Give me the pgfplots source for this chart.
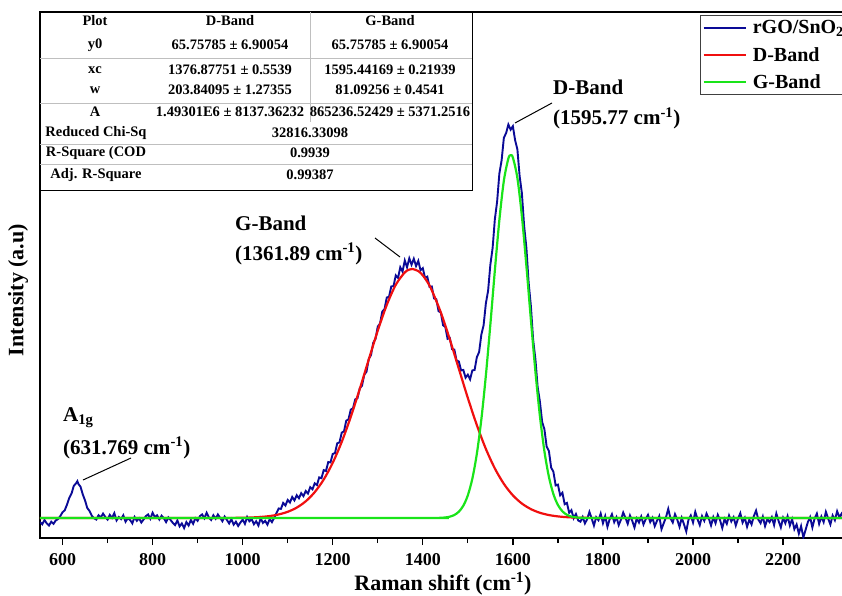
\documentclass[border=0pt]{standalone}
\usepackage{pgfplots}
\pgfplotsset{compat=1.18}
\usepackage{fontspec}
\setmainfont{Liberation Serif}
\definecolor{specblue}{RGB}{10,10,150}
\definecolor{fitred}{RGB}{240,15,15}
\definecolor{fitgreen}{RGB}{25,228,25}
\newcommand\tf{\fontsize{14.5}{14.5}\selectfont\bfseries}
\newcommand\af{\fontsize{21}{21}\selectfont\bfseries}
\begin{document}
\begin{tikzpicture}
\begin{axis}[
  at={(0pt,0pt)}, anchor=south west,
  scale only axis, width=830pt, height=526pt,
  xmin=550, xmax=2393, ymin=-403, ymax=11941,
  axis line style={line width=1.6pt},
  xtick={600,800,...,2200}, minor x tick num=1,
  ytick=\empty,
  xtick pos=bottom, tick align=outside,
  major tick length=7pt, minor tick length=5pt,
  every tick/.style={black, line width=1.3pt},
  xticklabel style={font=\fontsize{18}{18}\selectfont\bfseries, yshift=-5pt},
  /pgf/number format/assume math mode=true,
  /pgf/number format/1000 sep={},
  xlabel={Raman shift (cm\textsuperscript{-1})},
  ylabel={Intensity (a.u)},
  label style={font=\fontsize{22}{22}\selectfont\bfseries},
  xlabel style={at={([yshift=-46pt]rel axis cs:0.4855,0)}, anchor=center},
  ylabel style={at={([xshift=-22pt]rel axis cs:0,0.4715)}, anchor=center},
  legend style={at={(rel axis cs:0.7952,0.9943)}, anchor=north west,
    draw=black!75, line width=0.8pt, inner xsep=2pt, inner ysep=3pt,
    row sep=8pt, column sep=4pt, nodes={inner sep=2pt},
    font=\fontsize{20}{20}\selectfont\bfseries},
  legend cell align=left,
  legend image code/.code={\draw[#1,line width=2.4pt] (0pt,0pt) -- (42pt,0pt);},
]
% measured spectrum
\addplot[specblue, line width=1.9pt] coordinates {
(550,-30)(555,-80)(560,20)(565,-60)(570,-110)(575,-20)(580,-70)(585,10)(590,40)
(595,110)(600,200)(605,250)(610,380)(615,540)(620,640)(625,820)(630,880)(633,930)
(635,870)(640,800)(645,620)(650,480)(655,300)(660,230)(665,120)(670,60)
(675,30)(680,130)(685,80)(690,170)(695,90)(700,30)(705,140)(710,70)(715,180)(720,10)
(725,90)(730,40)(735,130)(740,-20)(745,60)(750,20)(755,-60)(760,90)(765,0)(770,60)
(775,-40)(780,30)(785,110)(790,150)(795,50)(800,190)(805,90)(810,130)(815,30)(820,120)
(825,60)(830,-30)(835,80)(840,20)(845,-50)(850,-100)(855,10)(860,-130)(865,-60)(870,-170)
(875,-30)(880,-110)(885,20)(890,-70)(895,60)(900,0)(905,110)(910,150)(915,60)(920,190)
(925,80)(930,20)(935,130)(940,50)(945,150)(950,70)(955,-10)(960,100)(965,20)(970,-60)
(975,40)(980,-90)(985,-20)(990,-120)(995,-40)(1000,30)(1005,-70)(1010,90)(1015,-10)(1020,40)
(1025,-80)(1030,-10)(1035,-110)(1040,60)(1045,-50)(1050,0)(1055,-90)(1060,40)(1065,-30)(1070,70)
(1075,180)(1080,290)(1085,280)(1090,420)(1095,360)(1100,490)(1105,430)(1110,560)(1115,480)
(1120,600)(1125,530)(1130,650)(1135,580)(1140,700)(1145,640)(1150,790)(1155,740)(1160,880)
(1165,840)(1170,1020)(1175,1000)(1180,1190)(1185,1170)(1190,1380)(1195,1370)(1200,1570)
(1205,1590)(1210,1820)(1215,1840)(1220,2070)(1225,2100)(1230,2350)(1235,2380)(1240,2610)
(1245,2640)(1250,2850)(1255,2880)(1260,3110)(1265,3170)(1270,3430)(1275,3500)(1280,3800)
(1285,3890)(1290,4180)(1295,4270)(1300,4560)(1305,4630)(1310,4910)(1315,4970)(1320,5240)
(1325,5260)(1330,5500)(1335,5510)(1340,5760)(1345,5700)(1350,5950)(1355,5850)(1360,6110)
(1365,5950)(1370,6160)(1375,6010)(1380,6150)(1385,5980)(1390,6100)(1395,5880)(1400,5930)
(1405,5700)(1410,5730)(1415,5490)(1420,5500)(1425,5220)(1430,5200)(1435,4920)(1440,4890)
(1445,4590)(1450,4550)(1455,4270)(1460,4290)(1465,4030)(1470,4020)(1475,3760)(1480,3740)
(1485,3530)(1490,3540)(1495,3360)(1500,3430)(1505,3320)(1510,3530)(1515,3540)(1520,3840)
(1525,3960)(1530,4370)(1535,4590)(1540,5100)(1545,5400)(1550,6010)(1555,6400)(1560,7080)
(1565,7490)(1570,8150)(1575,8460)(1580,8990)(1585,9100)(1590,9300)(1595,9180)(1600,9260)
(1605,8930)(1610,8720)(1615,8090)(1620,7690)(1625,6920)(1630,6410)(1635,5590)(1640,5040)
(1645,4250)(1650,3800)(1655,3140)(1660,2800)(1665,2320)(1670,2150)(1675,1740)(1680,1640)
(1685,1250)(1690,1150)(1695,830)(1700,850)(1705,600)(1710,660)(1715,390)(1720,420)
(1725,190)(1730,250)(1735,60)(1740,160)(1745,10)(1750,-20)(1755,90)(1760,-60)
(1765,40)(1770,210)(1775,55)(1780,-110)(1785,85)(1790,15)(1795,170)(1800,-55)(1805,110)
(1810,-140)(1815,40)(1820,155)(1825,-30)(1830,85)(1835,-100)(1840,30)(1845,195)(1850,70)
(1855,-70)(1860,125)(1865,0)(1870,-155)(1875,55)(1880,-40)(1885,100)(1890,-85)(1895,40)
(1900,140)(1905,-30)(1910,70)(1915,-125)(1920,0)(1925,110)(1930,-195)(1935,-55)(1940,85)
(1945,280)(1950,55)(1955,-40)(1960,155)(1965,30)(1970,-140)(1975,70)(1980,-85)(1985,-250)
(1990,30)(1995,125)(2000,-40)(2005,210)(2010,40)(2015,-100)(2020,110)(2025,0)(2030,170)
(2035,55)(2040,-110)(2045,85)(2050,-55)(2055,140)(2060,15)(2065,-170)(2070,40)(2075,-70)
(2080,125)(2085,-15)(2090,85)(2095,-110)(2100,55)(2105,180)(2110,-40)(2115,70)(2120,-140)
(2125,30)(2130,-85)(2135,110)(2140,240)(2145,30)(2150,-55)(2155,100)(2160,-125)(2165,40)
(2170,-30)(2175,85)(2180,-100)(2185,170)(2190,0)(2195,-155)(2200,70)(2205,-55)(2210,110)
(2215,-110)(2220,40)(2225,-195)(2230,-85)(2235,-300)(2240,-125)(2245,-390)(2250,-210)
(2255,-30)(2260,85)(2265,-155)(2270,55)(2275,170)(2280,-70)(2285,100)(2290,-30)(2295,210)
(2300,55)(2305,-85)(2310,125)(2315,15)(2320,225)(2325,85)(2330,170)(2335,40)(2340,140)
(2345,-55)(2350,100)(2360,30)(2370,125)(2380,-40)(2390,85)
};
\addlegendentry{rGO/SnO\textsubscript{2}}
% D-Band fit
\addplot[fitred, line width=2.2pt, smooth] coordinates {
(550,66)(900,66)(950,67)(1000,72)(1020,79)(1040,91)(1060,112)(1080,150)(1100,212)
(1120,310)(1140,458)(1160,673)(1180,970)(1200,1362)(1220,1853)(1240,2438)(1260,3094)
(1280,3786)(1300,4463)(1320,5067)(1340,5540)(1360,5830)(1370,5896)(1377,5910)(1390,5862)
(1400,5761)(1410,5609)(1420,5410)(1440,4890)(1460,4257)(1480,3569)(1500,2883)(1520,2246)
(1540,1689)(1560,1229)(1580,868)(1600,598)(1620,406)(1640,275)(1660,189)(1680,136)
(1700,104)(1720,86)(1740,76)(1760,71)(1800,67)(1850,66)(2400,66)
};
\addlegendentry{D-Band}
% G-Band fit
\addplot[fitgreen, line width=2.2pt, smooth] coordinates {
(550,66)(1400,66)(1420,67)(1440,71)(1450,80)(1460,98)(1470,137)(1480,214)(1490,355)
(1500,599)(1510,990)(1520,1574)(1530,2380)(1540,3408)(1550,4609)(1560,5876)(1570,7058)
(1580,7983)(1590,8503)(1595,8579)(1600,8525)(1610,8047)(1620,7152)(1630,5985)(1640,4719)
(1650,3508)(1660,2462)(1670,1635)(1680,1033)(1690,627)(1700,372)(1710,223)(1720,142)
(1730,100)(1740,81)(1750,72)(1770,67)(1800,66)(2400,66)
};
\addlegendentry{G-Band}
\end{axis}

% fit parameter table
\draw[black!25, line width=0.6pt] (0pt,480pt) -- (432pt,480pt)
  (0pt,435pt) -- (432pt,435pt) (0pt,394pt) -- (432pt,394pt) (0pt,374pt) -- (432pt,374pt)
  (270pt,526pt) -- (270pt,416pt);
\draw[black, line width=0.9pt] (432pt,526pt) -- (432pt,348pt) -- (0pt,348pt);
\node[font=\tf] at (55pt,517pt) {Plot};
\node[font=\tf] at (190pt,517pt) {D-Band};
\node[font=\tf] at (350pt,517pt) {G-Band};
\node[font=\tf] at (55pt,493pt) {y0};
\node[font=\tf] at (190pt,493pt) {65.75785 ± 6.90054};
\node[font=\tf] at (350pt,493pt) {65.75785 ± 6.90054};
\node[font=\tf] at (55pt,468pt) {xc};
\node[font=\tf] at (190pt,468pt) {1376.87751 ± 0.5539};
\node[font=\tf] at (350pt,468pt) {1595.44169 ± 0.21939};
\node[font=\tf] at (55pt,448pt) {w};
\node[font=\tf] at (190pt,448pt) {203.84095 ± 1.27355};
\node[font=\tf] at (350pt,448pt) {81.09256 ± 0.4541};
\node[font=\tf] at (55pt,426pt) {A};
\node[font=\tf] at (190pt,426pt) {1.49301E6 ± 8137.36232};
\node[font=\tf] at (350pt,426pt) {865236.52429 ± 5371.2516};
\node[font=\tf] at (56pt,405pt) {Reduced Chi-Sq};
\node[font=\tf] at (270pt,405pt) {32816.33098};
\node[font=\tf] at (56pt,385pt) {R-Square (COD};
\node[font=\tf] at (270pt,385pt) {0.9939};
\node[font=\tf] at (56pt,363pt) {Adj. R-Square};
\node[font=\tf] at (270pt,363pt) {0.99387};

% peak annotations
\node[font=\af, anchor=base west, inner sep=0pt] at (23pt,117pt) {A\textsubscript{1g}};
\node[font=\af, anchor=base west, inner sep=0pt] at (23pt,84pt) {(631.769 cm\textsuperscript{-1})};
\draw[line width=1pt] (43pt,58pt) -- (91pt,80pt);
\node[font=\af, anchor=base west, inner sep=0pt] at (195pt,308pt) {G-Band};
\node[font=\af, anchor=base west, inner sep=0pt] at (195pt,278pt) {(1361.89 cm\textsuperscript{-1})};
\draw[line width=1pt] (335pt,300pt) -- (360pt,281pt);
\node[font=\af, anchor=base west, inner sep=0pt] at (513pt,443pt) {D-Band};
\node[font=\af, anchor=base west, inner sep=0pt] at (513pt,413pt) {(1595.77 cm\textsuperscript{-1})};
\draw[line width=1pt] (512pt,435pt) -- (475pt,415pt);

\pgfresetboundingbox
\useasboundingbox (-40pt,-57pt) rectangle (802pt,538pt);
\end{tikzpicture}
\end{document}
